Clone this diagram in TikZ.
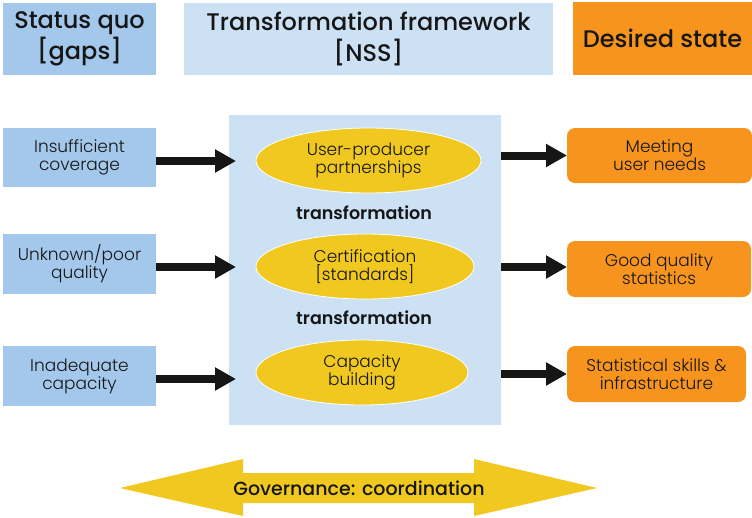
\documentclass[tikz,border=0pt]{standalone}
\usepackage{fontspec}
\setmainfont{Poppins}[UprightFont=* Light, BoldFont=* SemiBold]
\newfontfamily\headfont{Poppins Medium}
\usetikzlibrary{arrows.meta,shapes.geometric}
\definecolor{gapblue}{HTML}{A3C8EB}
\definecolor{nssblue}{HTML}{CCE1F4}
\definecolor{deorange}{HTML}{F7941E}
\definecolor{govyellow}{HTML}{F0C820}
\definecolor{ink}{HTML}{161616}
\begin{document}
\begin{tikzpicture}[x=1pt,y=-1pt,
  every node/.style={inner sep=0pt,outer sep=0pt,text=ink,align=center},
  headbox/.style={rectangle,font=\headfont\fontsize{24}{31}\selectfont},
  gapbox/.style={rectangle,fill=gapblue,minimum width=153pt,font=\fontsize{17}{18}\selectfont},
  goalbox/.style={rectangle,rounded corners=8pt,fill=deorange,font=\fontsize{17}{18}\selectfont},
  lever/.style={ellipse,fill=govyellow,draw=white,line width=0.8pt,font=\fontsize{17}{18}\selectfont},
  translabel/.style={font=\bfseries\fontsize{17.5}{18}\selectfont},
  bigarrow/.style={line width=8pt,draw=ink,-{Triangle[length=21pt,width=22pt]}}
]
\useasboundingbox (0,0) rectangle (752,517);
% headers
\node[headbox,fill=gapblue,minimum width=153pt,minimum height=72pt] (h1) at (79.5,39) {Status quo\\{}[gaps]};
\node[headbox,fill=nssblue,minimum width=369pt,minimum height=72pt] (h2) at (368.5,39) {Transformation framework\\{}[NSS]};
\node[headbox,fill=deorange,minimum width=179pt,minimum height=73pt] (h3) at (662.5,38.5) {Desired state};
% framework box
\node[rectangle,fill=nssblue,minimum width=272pt,minimum height=310pt] (frame) at (365,270) {};
% levers
\node[lever,minimum width=225pt,minimum height=65pt] (e1) at (368.5,160.5) {User-producer\\partnerships};
\node[lever,minimum width=218pt,minimum height=65pt] (e2) at (365,266.5) {Certification\\{}[standards]};
\node[lever,minimum width=212pt,minimum height=65pt] (e3) at (362,372.5) {Capacity\\building};
\node[translabel] (t1) at (364,213) {transformation};
\node[translabel] (t2) at (364,318) {transformation};
% gaps
\node[gapbox,minimum height=59pt] (l1) at (79.5,157.5) {Insufficient\\coverage};
\node[gapbox,minimum height=60pt] (l2) at (79.5,264) {Unknown/poor\\quality};
\node[gapbox,minimum height=60pt] (l3) at (79.5,376) {Inadequate\\capacity};
% goals
\node[goalbox,minimum width=185pt,minimum height=55pt] (r1) at (659.5,155.5) {Meeting\\user needs};
\node[goalbox,minimum width=184pt,minimum height=56pt] (r2) at (659,269) {Good quality\\statistics};
\node[goalbox,minimum width=179pt,minimum height=56pt] (r3) at (656.5,374) {Statistical skills \&\\infrastructure};
% arrows
\coordinate (tipL) at (236,0);
\draw[bigarrow] ([yshift=-3.5pt]l1.east) -- ([yshift=-3.5pt]l1.east -| tipL);
\draw[bigarrow] ([yshift=-3pt]l2.east) -- ([yshift=-3pt]l2.east -| tipL);
\draw[bigarrow] ([yshift=-3pt]l3.east) -- ([yshift=-3pt]l3.east -| tipL);
\draw[bigarrow] (r1.west -| frame.east) -- (r1.west);
\draw[bigarrow] ([yshift=2pt]r2.west -| frame.east) -- ([yshift=2pt]r2.west);
\draw[bigarrow] (r3.west -| frame.east) -- (r3.west);
% governance
\fill[govyellow] (120,488) -- (243,459) -- (243,473) -- (474,473) -- (474,459) -- (597,488) -- (474,516) -- (474,503) -- (243,503) -- (243,516) -- cycle;
\node[font=\headfont\fontsize{19}{19}\selectfont] (gov) at (359,488) {Governance: coordination};
\end{tikzpicture}
\end{document}
